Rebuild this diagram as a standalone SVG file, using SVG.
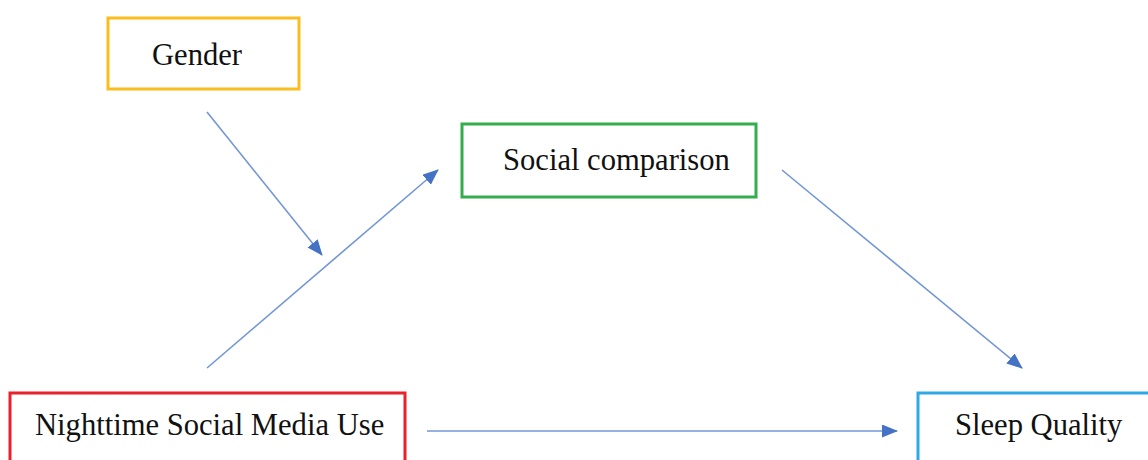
<svg xmlns="http://www.w3.org/2000/svg" width="1148" height="460" viewBox="0 0 1148 460">
  <style>
    .box { fill: #ffffff; stroke-width: 3; }
    .label { font-family: "Liberation Serif", "Times New Roman", serif; font-size: 30.6px; fill: #111111; }
    .edge { stroke: #7396d6; stroke-width: 1.6; fill: none; marker-end: url(#head); }
  </style>
  <defs>
    <marker id="head" markerUnits="userSpaceOnUse" markerWidth="16" markerHeight="14" refX="15" refY="6.5" orient="auto">
      <path d="M0,0 L16,6.5 L0,13 z" fill="#4472c4"/>
    </marker>
  </defs>
  <rect width="1148" height="460" fill="#ffffff"/>

  <g id="connectors">
    <line class="edge" x1="207" y1="112" x2="322" y2="255"/>
    <line class="edge" x1="207" y1="368" x2="438" y2="170"/>
    <line class="edge" x1="782" y1="170" x2="1022" y2="368"/>
    <line class="edge" x1="427" y1="431" x2="897" y2="431"/>
  </g>

  <g id="gender">
    <rect class="box" x="108" y="18" width="191" height="71" stroke="#fbbd1e"/>
    <text class="label" x="152" y="65">Gender</text>
  </g>

  <g id="social-comparison">
    <rect class="box" x="462" y="124" width="294" height="73" stroke="#35ad4f"/>
    <text class="label" x="503" y="170">Social comparison</text>
  </g>

  <g id="nighttime-social-media-use">
    <rect class="box" x="10" y="393" width="395" height="80" stroke="#e8212b"/>
    <text class="label" x="35" y="435">Nighttime Social Media Use</text>
  </g>

  <g id="sleep-quality">
    <rect class="box" x="918" y="393" width="240" height="80" stroke="#30a8e6"/>
    <text class="label" x="955" y="435">Sleep Quality</text>
  </g>
</svg>
